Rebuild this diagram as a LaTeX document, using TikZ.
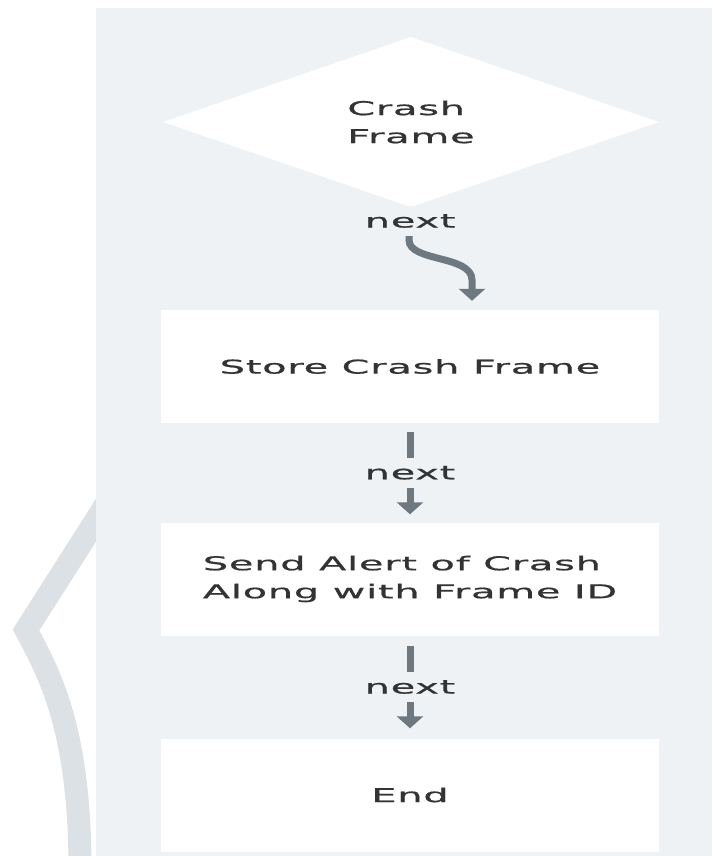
\documentclass[tikz,border=0pt]{standalone}
\usepackage{fontspec}
\setmainfont{DejaVu Sans}
\newfontfamily\chartfont[FakeStretch=2.1,LetterSpace=4,FakeBold=0.8]{DejaVu Sans}
\usetikzlibrary{shapes.geometric,arrows.meta}

\definecolor{panel}{HTML}{EEF2F5}
\definecolor{band}{HTML}{DBE1E5}
\definecolor{flowgray}{HTML}{6E7880}
\definecolor{textgray}{HTML}{333333}

\tikzset{
  charttext/.style={font=\chartfont\fontsize{19}{28}\selectfont, text=textgray},
  stepbox/.style={charttext, rectangle, fill=white, draw=none,
    minimum width=498pt, minimum height=113pt, inner sep=0pt, align=left},
  decision/.style={charttext, diamond, fill=white, draw=none,
    minimum width=496pt, minimum height=165pt, inner sep=0pt, align=left},
  flow/.style={draw=flowgray, line width=7pt,
    -{Triangle[width=26pt,length=12pt]}},
  lbl/.style={charttext, fill=panel, inner sep=0pt, minimum height=30pt,
    minimum width=96pt}
}

\begin{document}
\begin{tikzpicture}[x=1pt,y=-1pt]
  \useasboundingbox (0,0) rectangle (712,856);
  \fill[white] (0,0) rectangle (712,856);
  % decorative bracket stroke on the left
  \draw[band, line width=23pt, line join=miter]
    (128,470) -- (26,630) .. controls (50,675) and (80,730) .. (80,870);
  % backdrop panel
  \fill[panel] (96,8) rectangle (712,856);

  \node[decision] (crash) at (411,122) {Crash\\Frame};
  \node[stepbox] (store) at (410,366.5) {Store Crash Frame};
  \node[stepbox] (alert) at (410,579) {Send Alert of Crash\\Along with Frame ID};
  \node[stepbox, align=center] (end) at (410,795) {End};

  \coordinate (bend) at (409,240);
  \draw[flow, shorten >=9pt]
    (crash.south) -- node[lbl, pos=0.42] {next} (bend)
    .. controls (409,262) and (472,255) .. (472,280)
    -- ([xshift=62pt]store.north);
  \draw[flow, shorten <=9pt, shorten >=8pt]
    (store.south) -- node[lbl] {next} (alert.north);
  \draw[flow, shorten <=10pt, shorten >=10pt]
    (alert.south) -- node[lbl] {next} (end.north);
\end{tikzpicture}
\end{document}
